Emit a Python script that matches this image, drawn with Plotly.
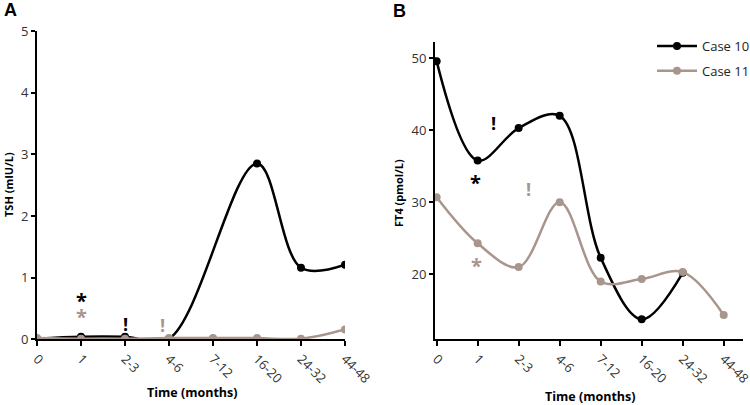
import plotly.graph_objects as go

months = ["0", "1", "2-3", "4-6", "7-12", "16-20", "24-32", "44-48"]
tsh_case10 = [0.01, 0.04, 0.04, 0.01, None, 2.85, 1.16, 1.21]
tsh_case11 = [0.02, 0.01, 0.01, 0.02, 0.02, 0.02, 0.01, 0.16]
ft4_case10 = [49.6, 35.8, 40.3, 42.0, 22.3, 13.75, 20.2, None]
ft4_case11 = [30.7, 24.3, 21.0, 30.0, 19.0, 19.35, 20.3, 14.35]
tsh_ticks = [0, 1, 2, 3, 4, 5]
ft4_ticks = [20, 30, 40, 50]

BLACK = "#000000"
GREY = "#a8958c"
FONT = "Open Sans"

fig = go.Figure()

def add(x, y, color, name, xa, ya, show):
    fig.add_trace(go.Scatter(
        x=x, y=y, name=name, mode="lines+markers",
        line=dict(color=color, width=2.5, shape="spline", smoothing=1),
        marker=dict(color=color, size=8),
        connectgaps=True, xaxis=xa, yaxis=ya, showlegend=show,
        legendgroup=name,
    ))

add(months, tsh_case10, BLACK, "Case 10", "x", "y", False)
add(months, tsh_case11, GREY, "Case 11", "x", "y", False)
add(months, ft4_case10, BLACK, "Case 10", "x2", "y2", True)
add(months, ft4_case11, GREY, "Case 11", "x2", "y2", True)

axis_common = dict(
    showline=True, linecolor="black", linewidth=2,
    ticks="outside", tickcolor="black", tickwidth=1.5,
    showgrid=False, zeroline=False, automargin=False,
    tickfont=dict(family=FONT, size=13, color="#333333"),
)

fig.update_layout(
    width=750, height=405,
    margin=dict(l=0, r=0, t=0, b=0, autoexpand=False),
    paper_bgcolor="white", plot_bgcolor="white",
    font=dict(family=FONT),
    xaxis=dict(axis_common, domain=[37/750, 345/750], anchor="y",
               type="category", range=[0, 7], tickangle=45, ticklen=5),
    yaxis=dict(axis_common, domain=[1-339.3/405, 1-31/405], anchor="x",
               range=[0, 5], tickvals=tsh_ticks, ticklen=4),
    xaxis2=dict(axis_common, domain=[435/750, 743/750], anchor="y2",
                type="category", range=[-0.04, 7.47], tickangle=45, ticklen=5),
    yaxis2=dict(axis_common, domain=[1-339.3/405, 1-41.7/405], anchor="x2",
                range=[10.97, 52.3], tickvals=ft4_ticks, ticklen=4),
    legend=dict(x=652/750, y=1-31/405, xanchor="left", yanchor="top",
                font=dict(family=FONT, size=13, color="#222222"),
                bgcolor="rgba(0,0,0,0)", tracegroupgap=5, traceorder="grouped",
                itemwidth=40),
)

ann = []
def txt(x, y, s, size=13, bold=True, xref="paper", yref="paper", color="black", angle=0, fam=FONT):
    ann.append(dict(x=x, y=y, xref=xref, yref=yref, text=f"<b>{s}</b>" if bold else s,
                    showarrow=False, font=dict(family=fam, size=size, color=color),
                    textangle=angle, xanchor="center", yanchor="middle"))

txt(10/750, 1-10/405, "A", size=18, fam="Liberation Sans")
txt(399/750, 1-11/405, "B", size=18, fam="Liberation Sans")
txt(8/750, 1-185/405, "TSH (mIU/L)", size=11, angle=-90)
txt(398/750, 1-193/405, "FT4 (pmol/L)", size=11, angle=-90)
txt(192/750, 1-392/405, "Time (months)", size=12.5)
txt(590/750, 1-396/405, "Time (months)", size=12.5)

txt(1, 0.63, "*", size=20, xref="x", yref="y")
txt(1, 0.37, "*", size=20, xref="x", yref="y", color=GREY)
txt(2, 0.25, "!", size=18, xref="x", yref="y")
txt(2.86, 0.23, "!", size=18, xref="x", yref="y", color=GREY)

txt(1.38, 41.0, "!", size=18, xref="x2", yref="y2")
txt(0.95, 32.8, "*", size=20, xref="x2", yref="y2")
txt(2.23, 31.8, "!", size=18, xref="x2", yref="y2", color=GREY)
txt(0.96, 21.2, "*", size=20, xref="x2", yref="y2", color=GREY)

fig.update_layout(annotations=ann)
fig.write_html("out.html", config={"displayModeBar": False},
               post_script="document.body.style.margin='0';")
